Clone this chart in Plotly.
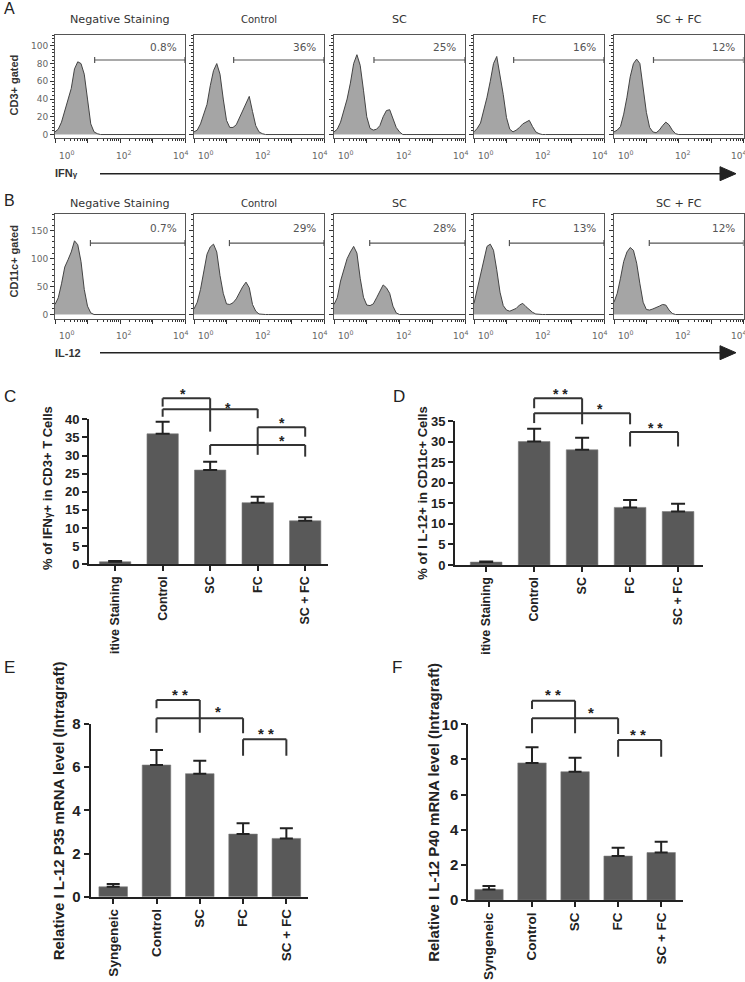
import math
import plotly.graph_objects as go

W, H = 745, 982

# ---------------- data ----------------
HIST_GROUPS = ["Negative Staining", "Control", "SC", "FC", "SC + FC"]
# log10 fluorescence intensity grid used for the histogram curves
LOG_INTENSITY = [0.0, 0.1, 0.2, 0.3, 0.4, 0.5, 0.6, 0.7, 0.8, 0.9, 1.0, 1.1, 1.2,
                 1.3, 1.4, 1.5, 1.6, 1.7, 1.8, 1.9, 2.0, 2.1, 2.2, 2.3, 2.4, 4.0]

IFNG_NEG = [3, 6, 14, 26, 38, 52, 74, 82, 80, 68, 40, 12, 3, 1, 0, 0, 0, 0, 0, 0, 0, 0, 0, 0, 0, 0]
IFNG_CTRL = [3, 5, 12, 24, 34, 55, 72, 80, 68, 40, 16, 8, 8, 11, 19, 28, 35, 43, 26, 10, 3, 1, 0, 0, 0, 0]
IFNG_SC = [3, 6, 14, 28, 40, 58, 80, 90, 78, 50, 20, 7, 5, 6, 10, 20, 27, 28, 18, 8, 3, 0, 0, 0, 0, 0]
IFNG_FC = [3, 7, 13, 26, 42, 60, 80, 88, 67, 45, 19, 6, 3, 5, 8, 12, 14, 16, 9, 3, 1, 0, 0, 0, 0, 0]
IFNG_SCFC = [3, 5, 9, 23, 42, 65, 80, 85, 80, 55, 25, 8, 3, 2, 5, 10, 14, 11, 5, 1, 0, 0, 0, 0, 0, 0]

IL12_NEG = [18, 30, 55, 85, 98, 112, 132, 125, 95, 45, 15, 3, 0, 0, 0, 0, 0, 0, 0, 0, 0, 0, 0, 0, 0, 0]
IL12_CTRL = [10, 22, 45, 80, 108, 121, 126, 112, 70, 38, 19, 18, 21, 28, 40, 50, 58, 48, 18, 6, 1, 0, 0, 0, 0, 0]
IL12_SC = [18, 30, 60, 80, 100, 112, 122, 110, 65, 31, 17, 16, 19, 30, 42, 53, 48, 38, 15, 3, 0, 0, 0, 0, 0, 0]
IL12_FC = [20, 45, 75, 97, 122, 126, 115, 80, 40, 16, 8, 6, 8, 11, 17, 20, 14, 9, 4, 1, 0, 0, 0, 0, 0, 0]
IL12_SCFC = [22, 38, 65, 95, 112, 120, 115, 92, 55, 22, 9, 8, 10, 12, 15, 18, 17, 8, 2, 0, 0, 0, 0, 0, 0, 0]

IFNG_PCT = ["0.8%", "36%", "25%", "16%", "12%"]
IL12_PCT = ["0.7%", "29%", "28%", "13%", "12%"]

# gate: (start log10 intensity, end, count level)
IFNG_GATE = (1.22, 4.0, 84)
IL12_GATE = (1.09, 4.0, 128)

HIST_X_TICKVALS = [0, 1, 2, 3, 4]
HIST_X_LABELS = ["10<sup>0</sup>", "10<sup>2</sup>", "10<sup>4</sup>"]
HIST_X_LABEL_POS = [0.36, 2.11, 3.86]

FLOW_CATS = ["itive Staining", "Control", "SC", "FC", "SC + FC"]
PCR_CATS = ["Syngeneic", "Control", "SC", "FC", "SC + FC"]

C_MEAN = [0.7, 36.0, 26.0, 17.0, 12.0]
C_SEM = [0.2, 3.3, 2.3, 1.6, 1.0]
D_MEAN = [0.7, 30.0, 28.0, 14.0, 13.0]
D_SEM = [0.15, 3.1, 2.9, 1.8, 1.9]
E_MEAN = [0.46, 6.1, 5.7, 2.9, 2.7]
E_SEM = [0.13, 0.7, 0.6, 0.5, 0.47]
F_MEAN = [0.6, 7.8, 7.3, 2.5, 2.7]
F_SEM = [0.2, 0.9, 0.8, 0.48, 0.62]

# significance brackets: (x_left, x_right, y_top, y_left_end, y_right_end) in data units
C_BRACKETS = [(1, 2, 45.8, 43.5, 36.6), (1, 3, 42.8, 40.7, 40.3),
              (3, 4, 37.8, 30.2, 35.2), (2, 4, 32.9, 30.2, 29.7)]
C_STARS = [("*", 1.42, 47.8), ("*", 2.38, 44.0), ("*", 3.51, 39.7), ("*", 3.51, 34.9)]
D_BRACKETS = [(1, 2, 40.5, 38.1, 34.2), (1, 3, 36.9, 34.5, 34.2), (3, 4, 32.3, 28.8, 28.8)]
D_STARS = [("* *", 1.54, 42.4), ("*", 2.37, 38.7), ("* *", 3.52, 34.1)]
E_BRACKETS = [(1, 2, 9.11, 8.73, 7.60), (1, 3, 8.27, 7.60, 7.57), (3, 4, 7.29, 6.53, 6.53)]
E_STARS = [("* *", 1.54, 9.52), ("*", 2.43, 8.72), ("* *", 3.52, 7.71)]
F_BRACKETS = [(1, 2, 11.34, 10.87, 9.49), (1, 3, 10.34, 9.49, 9.45), (3, 4, 9.11, 8.16, 8.16)]
F_STARS = [("* *", 1.49, 11.88), ("*", 2.36, 10.87), ("* *", 3.47, 9.60)]

# ---------------- layout helpers ----------------
BOLD = "Liberation Sans, Arial, sans-serif"
FLOWFONT = "DejaVu Sans, Verdana, sans-serif"

fig = go.Figure()
layout = {}
shapes = []
annotations = []


def ax_names(i):
    return ("x" if i == 1 else f"x{i}", "y" if i == 1 else f"y{i}",
            "xaxis" if i == 1 else f"xaxis{i}", "yaxis" if i == 1 else f"yaxis{i}")


def dom_x(px0, px1):
    return [px0 / W, px1 / W]


def dom_y(top_px, bottom_px):
    return [1 - bottom_px / H, 1 - top_px / H]


MINOR_LOG = [d + math.log10(k) for d in range(4) for k in range(2, 10)]

HIST_PANEL_X = [(55, 185), (194, 324), (334, 465), (474, 604), (614, 743.5)]
HIST_ROWS = [
    dict(curves=[IFNG_NEG, IFNG_CTRL, IFNG_SC, IFNG_FC, IFNG_SCFC], pct=IFNG_PCT,
         gate=IFNG_GATE, ypx=(35, 138), yrange=(-3.9, 112.2), major=[0, 20, 40, 60, 80, 100],
         minor=4, cap=3.5, pct_y=99, title_y=20, tick_y=155, first=1),
    dict(curves=[IL12_NEG, IL12_CTRL, IL12_SC, IL12_FC, IL12_SCFC], pct=IL12_PCT,
         gate=IL12_GATE, ypx=(214, 319), yrange=(-8, 180), major=[0, 50, 100, 150],
         minor=10, cap=5.5, pct_y=155, title_y=203, tick_y=335, first=6),
]

TITLE_SIZES = [11.2, 10, 11.2, 11.2, 11.2]

for row in HIST_ROWS:
    for j in range(5):
        i = row["first"] + j
        xr, yr, xk, yk = ax_names(i)
        layout[xk] = dict(domain=dom_x(*HIST_PANEL_X[j]), anchor=yr, range=[0, 4],
                          automargin=False, tickmode="array", tickvals=HIST_X_TICKVALS,
                          showticklabels=False,
                          ticks="outside", ticklen=4, tickwidth=1, tickcolor="#333",
                          showline=True, mirror=True, linecolor="#555", linewidth=1,
                          showgrid=False, zeroline=False,
                          minor=dict(tickmode="array", tickvals=MINOR_LOG, ticks="outside",
                                     ticklen=2, tickwidth=1, tickcolor="#333", showgrid=False))
        layout[yk] = dict(domain=dom_y(*row["ypx"]), anchor=xr, range=list(row["yrange"]),
                          automargin=False,
                          tickmode="array", tickvals=row["major"], ticks="outside", ticklen=4,
                          tickwidth=1, tickcolor="#333", showline=True, mirror=True,
                          linecolor="#555", linewidth=1, showgrid=False, zeroline=False,
                          showticklabels=(j == 0),
                          tickfont=dict(family=FLOWFONT, size=9, color="#666"),
                          minor=dict(tickmode="linear", tick0=0, dtick=row["minor"],
                                     ticks="outside", ticklen=2, tickwidth=1,
                                     tickcolor="#333", showgrid=False))
        fig.add_trace(go.Scatter(x=LOG_INTENSITY, y=row["curves"][j], mode="lines",
                                 fill="tozeroy", fillcolor="#a5a5a5",
                                 line=dict(color="#444", width=1),
                                 xaxis=xr, yaxis=yr, showlegend=False, hoverinfo="skip"))
        g0, g1, lev = row["gate"]
        c = row["cap"]
        fig.add_trace(go.Scatter(x=[g0, g0, None, g0, g1, None, g1, g1],
                                 y=[lev - c, lev + c, None, lev, lev, None, lev - c, lev + c],
                                 mode="lines", line=dict(color="#555", width=1.2),
                                 xaxis=xr, yaxis=yr, showlegend=False, hoverinfo="skip"))
        annotations.append(dict(text=row["pct"][j], x=3.8, y=row["pct_y"], xref=xr, yref=yr,
                                xanchor="right", yanchor="middle", showarrow=False,
                                font=dict(family=FLOWFONT, size=10.5, color="#555")))
        annotations.append(dict(text=HIST_GROUPS[j], x=0.5, xref=f"{xr} domain",
                                y=1 - row["title_y"] / H, yref="paper", xanchor="center",
                                yanchor="middle", showarrow=False,
                                font=dict(family=FLOWFONT, size=TITLE_SIZES[j], color="#333")))
        for lbl, lx in zip(HIST_X_LABELS, HIST_X_LABEL_POS):
            annotations.append(dict(text=lbl, x=lx, xref=xr, y=1 - row["tick_y"] / H,
                                    yref="paper", xanchor="center", yanchor="middle",
                                    showarrow=False,
                                    font=dict(family=FLOWFONT, size=9, color="#666")))

# flow section labels and arrows
for lab, ypx, name, namey, arrow_y in [("A", 8, "CD3+ gated", 85, 173.7),
                                      ("B", 201, "CD11c+ gated", 262, 352.7)]:
    annotations.append(dict(text=lab, x=2 / W, y=1 - ypx / H, xref="paper", yref="paper",
                            xanchor="left", yanchor="middle", showarrow=False,
                            font=dict(family=BOLD, size=16, color="#222")))
    annotations.append(dict(text=name, x=13.5 / W, y=1 - namey / H, xref="paper", yref="paper",
                            textangle=-90, xanchor="center", yanchor="middle", showarrow=False,
                            font=dict(family=BOLD, size=11, color="#333", weight="bold")))
    shapes.append(dict(type="line", xref="paper", yref="paper", x0=100 / W, x1=722 / W,
                       y0=1 - arrow_y / H, y1=1 - arrow_y / H,
                       line=dict(color="#222", width=1.6)))
    shapes.append(dict(type="path", xref="paper", yref="paper",
                       path=f"M {720 / W},{1 - (arrow_y - 7) / H} L {736 / W},{1 - arrow_y / H} "
                            f"L {720 / W},{1 - (arrow_y + 7) / H} Z",
                       fillcolor="#222", line=dict(color="#222", width=1)))

annotations.append(dict(text="IFN<span style='font-size:8px'>γ</span>", x=53 / W,
                        y=1 - 173.5 / H, xref="paper", yref="paper", xanchor="left",
                        yanchor="middle", showarrow=False,
                        font=dict(family=BOLD, size=11, color="#333", weight="bold")))
annotations.append(dict(text="IL-12", x=53 / W, y=1 - 353 / H, xref="paper", yref="paper",
                        xanchor="left", yanchor="middle", showarrow=False,
                        font=dict(family=BOLD, size=11, color="#333", weight="bold")))

# ---------------- bar panels ----------------
BAR_PANELS = [
    dict(letter="C", letter_px=(2, 397), idx=11, cats=FLOW_CATS, mean=C_MEAN, sem=C_SEM,
         xpx=(89, 328), ypx=(419.3, 564.3), xr=(-0.55, 4.48), yr=(0, 40), dtick=5,
         brackets=C_BRACKETS, stars=C_STARS,
         ytitle="% of IFN<span style='font-size:10px'>γ</span>+ in CD3+ T Cells",
         ytitle_px=(47, 488), tickfs=13, labfs=12.5, titlefs=13, capw=7, starfs=14),
    dict(letter="D", letter_px=(391, 397), idx=12, cats=FLOW_CATS, mean=D_MEAN, sem=D_SEM,
         xpx=(455, 703), ypx=(421, 565), xr=(-0.65, 4.52), yr=(0, 35), dtick=5,
         brackets=D_BRACKETS, stars=D_STARS, ytitle="% of I L-12+ in CD11c+ Cells",
         ytitle_px=(421.7, 493), tickfs=13, labfs=12.5, titlefs=13, capw=7, starfs=14),
    dict(letter="E", letter_px=(2, 667), idx=13, cats=PCR_CATS, mean=E_MEAN, sem=E_SEM,
         xpx=(90.7, 308), ypx=(724, 896.7), xr=(-0.52, 4.5), yr=(0, 8), dtick=2,
         brackets=E_BRACKETS, stars=E_STARS,
         ytitle="Relative I L-12 P35 mRNA level (Intragraft)",
         ytitle_px=(58.3, 811), tickfs=15, labfs=13.5, titlefs=15, capw=6.5, starfs=15),
    dict(letter="F", letter_px=(390, 667), idx=14, cats=PCR_CATS, mean=F_MEAN, sem=F_SEM,
         xpx=(468.3, 682.7), ypx=(724.3, 900), xr=(-0.48, 4.5), yr=(0, 10), dtick=2,
         brackets=F_BRACKETS, stars=F_STARS,
         ytitle="Relative I L-12 P40 mRNA level (Intragraft)",
         ytitle_px=(433.3, 812.5), tickfs=15, labfs=13.5, titlefs=15, capw=6.5, starfs=15),
]

AXC = "#222"
for p in BAR_PANELS:
    i = p["idx"]
    xr, yr, xk, yk = ax_names(i)
    ydom = dom_y(*p["ypx"])
    layout[xk] = dict(domain=dom_x(*p["xpx"]), anchor=yr, range=list(p["xr"]), automargin=False,
                      tickmode="array", tickvals=list(range(len(p["cats"]))), ticktext=p["cats"],
                      tickangle=-90, ticks="outside", ticklen=5, tickwidth=2, tickcolor=AXC,
                      showline=True, linewidth=2, linecolor=AXC, showgrid=False, zeroline=False,
                      tickfont=dict(family=BOLD, size=p["labfs"], color=AXC, weight="bold"))
    layout[yk] = dict(domain=ydom, anchor=xr, range=list(p["yr"]), tick0=0, dtick=p["dtick"],
                      automargin=False,
                      ticks="outside", ticklen=5, tickwidth=2, tickcolor=AXC,
                      showline=True, linewidth=2, linecolor=AXC, showgrid=False, zeroline=False,
                      tickfont=dict(family=BOLD, size=p["tickfs"], color=AXC, weight="bold"))
    fig.add_trace(go.Bar(x=list(range(len(p["cats"]))), y=p["mean"], width=0.66,
                         marker=dict(color="#595959", line=dict(color="#7d7d7d", width=0.6)),
                         error_y=dict(type="data", array=p["sem"], arrayminus=[0] * len(p["sem"]),
                                      symmetric=False, color=AXC, thickness=2, width=p["capw"]),
                         xaxis=xr, yaxis=yr, showlegend=False, hoverinfo="skip"))

    y0, y1 = p["yr"]

    def yp(v, ydom=ydom, y0=y0, y1=y1):
        return ydom[0] + (v - y0) / (y1 - y0) * (ydom[1] - ydom[0])

    for (xa, xb, ytop, yl, yrr) in p["brackets"]:
        ln = dict(color="#333", width=2)
        shapes.append(dict(type="line", xref=xr, yref="paper", x0=xa, x1=xb,
                           y0=yp(ytop), y1=yp(ytop), line=ln))
        shapes.append(dict(type="line", xref=xr, yref="paper", x0=xa, x1=xa,
                           y0=yp(ytop), y1=yp(yl), line=ln))
        shapes.append(dict(type="line", xref=xr, yref="paper", x0=xb, x1=xb,
                           y0=yp(ytop), y1=yp(yrr), line=ln))
    for (txt, sx, sy) in p["stars"]:
        annotations.append(dict(text=txt, x=sx, y=yp(sy), xref=xr, yref="paper",
                                xanchor="center", yanchor="middle", yshift=-3, showarrow=False,
                                font=dict(family=BOLD, size=p["starfs"], color="#222",
                                          weight="bold")))
    tx, ty = p["ytitle_px"]
    annotations.append(dict(text=p["ytitle"], x=tx / W, y=1 - ty / H, xref="paper", yref="paper",
                            textangle=-90, xanchor="center", yanchor="middle", showarrow=False,
                            font=dict(family=BOLD, size=p["titlefs"], color=AXC, weight="bold")))
    lx, ly = p["letter_px"]
    annotations.append(dict(text=p["letter"], x=lx / W, y=1 - ly / H, xref="paper",
                            yref="paper", xanchor="left", yanchor="middle", showarrow=False,
                            font=dict(family=BOLD, size=17, color="#222")))

layout.update(dict(template="none", width=W, height=H, margin=dict(l=0, r=0, t=0, b=0, pad=0),
                   autosize=False, font=dict(family=BOLD, color="#222"),
                   paper_bgcolor="white", plot_bgcolor="white", showlegend=False,
                   barmode="overlay", shapes=shapes, annotations=annotations))
fig.update_layout(**layout)
fig.write_html("out.html", config={"displayModeBar": False, "staticPlot": True},
               post_script="document.body.style.margin='0';document.body.style.padding='0';"
                           "document.body.style.overflow='hidden';")
